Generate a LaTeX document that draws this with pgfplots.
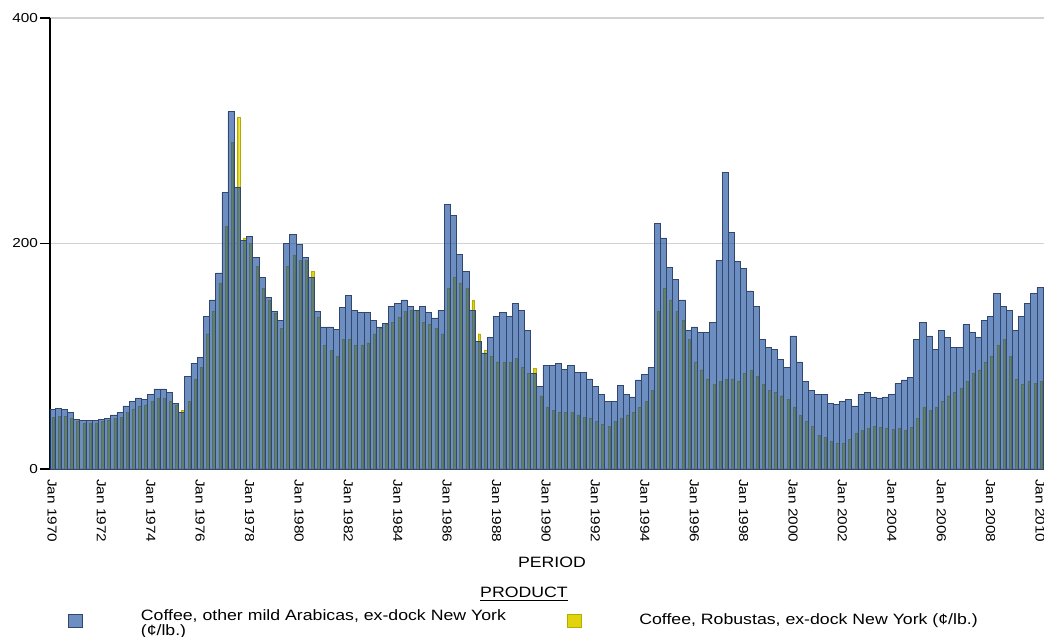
\documentclass[border=0pt]{standalone}
\usepackage{fontspec}
\setmainfont{Liberation Sans}[FakeStretch=1.18]
\usepackage{pgfplots}
\usepackage{pgfplotstable}
\pgfplotsset{compat=1.18}
\definecolor{arabblue}{RGB}{30,82,158}
\definecolor{arabedge}{RGB}{50,70,110}
\definecolor{robyellow}{RGB}{225,212,10}

% quarterly prices, US cents per lb
\pgfplotstableread{
period arabica robusta
1970.00 53 46
1970.25 54 47
1970.50 53 47
1970.75 50 45
1971.00 44 42
1971.25 43 41
1971.50 43 41
1971.75 43 41
1972.00 44 42
1972.25 45 43
1972.50 48 45
1972.75 50 46
1973.00 56 50
1973.25 60 53
1973.50 63 56
1973.75 62 57
1974.00 66 60
1974.25 71 63
1974.50 71 63
1974.75 68 60
1975.00 58 57
1975.25 50 52
1975.50 82 60
1975.75 94 80
1976.00 99 90
1976.25 135 120
1976.50 150 140
1976.75 174 165
1977.00 245 215
1977.25 317 290
1977.50 250 312
1977.75 203 205
1978.00 206 200
1978.25 188 180
1978.50 170 160
1978.75 152 150
1979.00 140 138
1979.25 132 125
1979.50 200 180
1979.75 208 190
1980.00 199 185
1980.25 188 185
1980.50 170 175
1980.75 140 135
1981.00 126 110
1981.25 126 105
1981.50 124 100
1981.75 143 115
1982.00 154 115
1982.25 141 110
1982.50 139 110
1982.75 139 112
1983.00 132 120
1983.25 126 125
1983.50 129 128
1983.75 144 130
1984.00 147 135
1984.25 150 140
1984.50 144 141
1984.75 141 141
1985.00 144 130
1985.25 139 128
1985.50 134 125
1985.75 141 120
1986.00 235 160
1986.25 225 170
1986.50 190 165
1986.75 175 160
1987.00 141 150
1987.25 113 120
1987.50 103 105
1987.75 117 100
1988.00 135 95
1988.25 139 95
1988.50 135 95
1988.75 147 98
1989.00 141 90
1989.25 123 85
1989.50 85 89
1989.75 73 65
1990.00 92 55
1990.25 92 52
1990.50 94 50
1990.75 88 50
1991.00 92 50
1991.25 86 48
1991.50 86 46
1991.75 80 45
1992.00 73 42
1992.25 66 40
1992.50 60 38
1992.75 60 42
1993.00 74 45
1993.25 66 48
1993.50 64 50
1993.75 79 55
1994.00 84 60
1994.25 90 70
1994.50 218 140
1994.75 205 160
1995.00 179 150
1995.25 168 140
1995.50 150 132
1995.75 123 115
1996.00 126 95
1996.25 121 88
1996.50 121 80
1996.75 130 75
1997.00 185 78
1997.25 263 80
1997.50 210 80
1997.75 184 78
1998.00 178 85
1998.25 158 88
1998.50 144 82
1998.75 115 75
1999.00 108 70
1999.25 106 68
1999.50 97 65
1999.75 90 62
2000.00 118 55
2000.25 95 48
2000.50 78 42
2000.75 70 38
2001.00 66 30
2001.25 66 28
2001.50 58 25
2001.75 57 23
2002.00 60 23
2002.25 62 26
2002.50 56 32
2002.75 66 34
2003.00 68 36
2003.25 64 38
2003.50 63 37
2003.75 64 36
2004.00 66 35
2004.25 76 36
2004.50 79 34
2004.75 81 37
2005.00 115 45
2005.25 130 55
2005.50 118 52
2005.75 106 55
2006.00 123 60
2006.25 117 65
2006.50 108 68
2006.75 108 72
2007.00 128 78
2007.25 121 85
2007.50 117 88
2007.75 132 95
2008.00 135 100
2008.25 156 110
2008.50 144 115
2008.75 141 100
2009.00 123 80
2009.25 135 75
2009.50 147 78
2009.75 156 76
2010.00 161 78
}\coffee

\begin{document}
\begin{tikzpicture}
\useasboundingbox (-25pt,-84pt) rectangle (497pt,234.5pt);
\begin{axis}[
    name=ax,
    at={(0,0)}, anchor=south west,
    scale only axis,
    width=497pt, height=225.5pt,
    xmin=1969.92, xmax=2010.16,
    ymin=0, ymax=400,
    axis y line*=left,
    axis x line*=bottom,
    x axis line style={draw=gray!60},
    y axis line style={line width=0.8pt},
    ytick={0,200,400},
    xtick={1970,1972,...,2010},
    xticklabels={Jan 1970,Jan 1972,Jan 1974,Jan 1976,Jan 1978,Jan 1980,Jan 1982,Jan 1984,Jan 1986,Jan 1988,Jan 1990,Jan 1992,Jan 1994,Jan 1996,Jan 1998,Jan 2000,Jan 2002,Jan 2004,Jan 2006,Jan 2008,Jan 2010},
    xtick style={draw=none},
    ytick style={draw=black, line width=0.7pt},
    tick align=outside,
    major tick length=5pt,
    xticklabel shift=-3.5pt,
    x tick label style={rotate=-90, anchor=west, font=\fontsize{6.5}{7}\selectfont},
    y tick label style={font=\fontsize{6.5}{7}\selectfont, inner xsep=0.8pt},
    /pgf/number format/assume math mode=true,
    ymajorgrids,
    grid style={gray!35, line width=0.6pt},
    xlabel={PERIOD},
    xlabel style={at={(axis description cs:0.505,-0.208)}, anchor=center, font=\fontsize{7.5}{8}\selectfont},
    legend columns=2,
    reverse legend,
    legend style={at={(axis description cs:0.018,-0.336)}, anchor=west,
        draw=none, fill=none, inner sep=0pt,
        font=\fontsize{7.5}{7.5}\selectfont,
        cells={anchor=west, align=left}},
    legend image code/.code={\draw[#1] (0pt,-3.25pt) rectangle (7pt,3.25pt);},
]
\addplot[ybar, bar width=0.1, bar shift=0.05, fill=robyellow, draw=robyellow!80!black, line width=0.2pt]
    table[x=period, y=robusta] {\coffee};
\addlegendentry{\hspace*{27pt}Coffee, Robustas, ex-dock New York (¢/lb.)}
\addplot[ybar, bar width=0.25, bar shift=0, fill=arabblue, fill opacity=0.65, draw=arabedge, line width=0.3pt]
    table[x=period, y=arabica] {\coffee};
\addlegendentry{\hspace*{27pt}\parbox[c]{211pt}{\baselineskip=6pt Coffee, other mild Arabicas, ex-dock New York\\(¢/lb.)}}
\end{axis}
\node[font=\fontsize{7.5}{8}\selectfont] at (237pt,-62.5pt) {\underline{PRODUCT}};
\end{tikzpicture}
\end{document}
